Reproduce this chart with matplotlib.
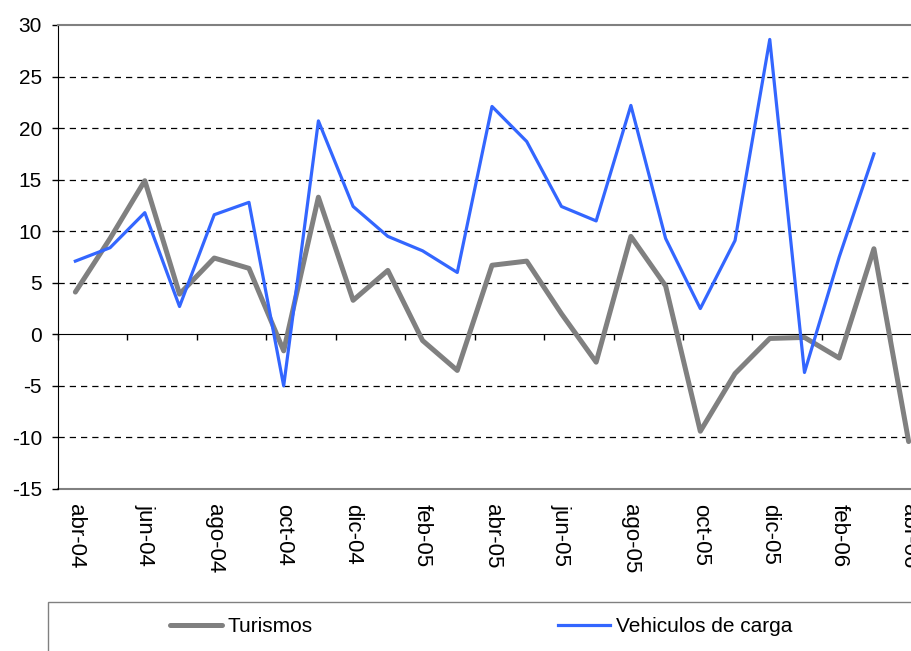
import matplotlib.pyplot as plt
from matplotlib.patches import Rectangle

plt.rcParams['font.family'] = ['Liberation Sans', 'DejaVu Sans']
plt.rcParams['axes.unicode_minus'] = False

# meses (abr-04 .. abr-06)
meses = ['abr-04', 'may-04', 'jun-04', 'jul-04', 'ago-04', 'sep-04', 'oct-04',
         'nov-04', 'dic-04', 'ene-05', 'feb-05', 'mar-05', 'abr-05', 'may-05',
         'jun-05', 'jul-05', 'ago-05', 'sep-05', 'oct-05', 'nov-05', 'dic-05',
         'ene-06', 'feb-06', 'mar-06', 'abr-06']

turismos = [4.1, 9.3, 14.9, 3.9, 7.4, 6.4, -1.6, 13.3, 3.3, 6.2, -0.6, -3.5,
            6.7, 7.1, 2.0, -2.7, 9.5, 4.7, -9.4, -3.8, -0.4, -0.3, -2.3, 8.3, -10.4]

vehiculos = [7.1, 8.4, 11.8, 2.7, 11.6, 12.8, -5.0, 20.7, 12.4, 9.5, 8.1, 6.0,
             22.1, 18.7, 12.4, 11.0, 22.2, 9.3, 2.5, 9.1, 28.6, -3.7, 7.5, 17.5]

fig = plt.figure(figsize=(9.12, 6.51), dpi=100)
ax = fig.add_axes([58/912, 1 - 489/651, 868/912, 464/651])

l1, = ax.plot(range(len(turismos)), turismos, color='#808080', lw=3.6,
              label='Turismos', zorder=3, solid_capstyle='round')
l2, = ax.plot(range(len(vehiculos)), vehiculos, color='#3366FF', lw=2.3,
              label='Vehiculos de carga', zorder=4)

ax.set_xlim(-0.5, len(meses) - 0.5)
ax.set_ylim(-15, 30)
ax.set_yticks(range(-15, 31, 5))
ax.tick_params(axis='y', length=4.5, width=1, pad=7, labelsize=15)

# eje x en el cero, con marcas entre categorias
ax.spines['bottom'].set_position(('data', 0))
ax.spines['bottom'].set_color('black')
ax.set_xticks([i - 0.5 for i in range(0, len(meses) + 1, 2)])
ax.set_xticklabels([])
ax.tick_params(axis='x', length=4, width=1, direction='out')
ax.spines['top'].set_color('#808080')
ax.spines['top'].set_linewidth(1.5)
ax.spines['right'].set_visible(False)

secax = ax.secondary_xaxis(0.0)
secax.set_xticks(range(0, len(meses), 2), labels=meses[::2], rotation=-90)
secax.tick_params(length=0, pad=11, labelsize=16)
secax.spines['bottom'].set_color('#808080')
secax.spines['bottom'].set_linewidth(1.5)

ax.yaxis.grid(True, color='black', linestyle=(0, (5, 4)), lw=0.9)
for v, gl in zip(ax.get_yticks(), ax.get_ygridlines()):
    if v in (-15, 0, 30):
        gl.set_visible(False)

# leyenda
fig.add_artist(Rectangle((48/912, -0.1), 1, 0.1 + (651 - 602)/651,
                         transform=fig.transFigure, fill=False,
                         edgecolor='#808080', lw=1))
fig.legend(handles=[l1, l2], loc='center left',
           bbox_to_anchor=(170/912, 1 - 627/651), ncol=2, frameon=False,
           borderpad=0, borderaxespad=0, fontsize=15, handlelength=2.5,
           handletextpad=0.25, columnspacing=11.8)

fig.savefig('out.png', dpi=100)
